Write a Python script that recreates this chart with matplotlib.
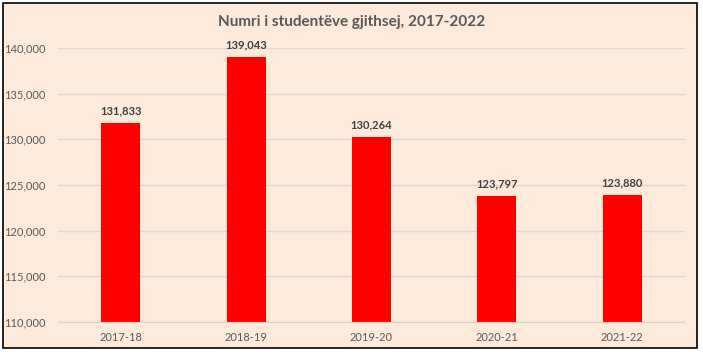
import matplotlib.pyplot as plt
from matplotlib.patches import Rectangle

years = ['2017-18', '2018-19', '2019-20', '2020-21', '2021-22']
students = [131833, 139043, 130264, 123797, 123880]
yticks = [110000, 115000, 120000, 125000, 130000, 135000, 140000]

bg = '#FDEADA'
txt = '#595959'

plt.rcParams['font.family'] = ['Lato', 'DejaVu Sans']

fig = plt.figure(figsize=(7.03, 3.52), dpi=100, facecolor='white')
# peach chart area behind everything, black frame on top
frame = (3 / 703, 4 / 352)
fw, fh = 694 / 703, 345 / 352
fig.add_artist(Rectangle(frame, fw, fh, transform=fig.transFigure,
                         facecolor=bg, edgecolor='none', zorder=-5))
fig.add_artist(Rectangle(frame, fw, fh, transform=fig.transFigure,
                         fill=False, edgecolor='black', linewidth=1.2, zorder=10))

ax = fig.add_axes([58 / 703, 1 - 322 / 352, 627 / 703, 274 / 352])
ax.set_facecolor(bg)

x = range(len(years))
ax.bar(x, students, width=0.31, color='#FF0000', zorder=3)
for i, v in zip(x, students):
    ax.text(i, v + 700, f'{v:,}', ha='center', va='bottom', fontsize=8,
            fontweight='bold', color='#404040')

ax.set_ylim(110000, 140000)
ax.set_xlim(-0.5, len(years) - 0.5)
ax.set_yticks(yticks)
ax.set_yticklabels([f'{t:,}' for t in yticks])
ax.set_xticks(list(x))
ax.set_xticklabels(years)
ax.tick_params(axis='both', length=0, labelsize=8, labelcolor=txt)
ax.tick_params(axis='y', pad=9)
ax.tick_params(axis='x', pad=7)
ax.grid(axis='y', color='#E3D6CC', linewidth=1, zorder=0)
for s in ['top', 'right', 'left']:
    ax.spines[s].set_visible(False)
ax.spines['bottom'].set_color('#DCCFC5')
ax.spines['bottom'].set_zorder(4)

fig.text(0.5, 1 - 22 / 352, 'Numri i studentëve gjithsej, 2017-2022', ha='center',
         va='center', fontsize=11, fontweight='bold', color=txt)

fig.savefig('out.png', dpi=100, facecolor='white')
